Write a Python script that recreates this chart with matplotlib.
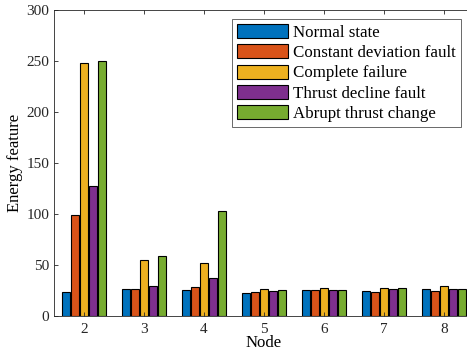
import matplotlib.pyplot as plt
import numpy as np

plt.rcParams['font.family'] = ['Liberation Serif', 'DejaVu Serif']

nodes = [2, 3, 4, 5, 6, 7, 8]
series_names = ['Normal state', 'Constant deviation fault', 'Complete failure',
                'Thrust decline fault', 'Abrupt thrust change']
normal_state = [23.2, 26.1, 25.8, 22.5, 25.8, 24.5, 26.5]
constant_dev = [98.7, 26.1, 28.1, 23.8, 25.2, 23.8, 24.2]
complete_fail = [248.5, 55.2, 52.3, 26.2, 27.1, 27.1, 29.4]
thrust_decline = [127.0, 29.7, 37.3, 24.2, 25.2, 26.5, 26.2]
abrupt_change = [250.3, 58.8, 102.9, 25.2, 25.2, 27.1, 26.5]
colors = ['#0072BD', '#D95319', '#EDB120', '#7E2F8E', '#77AC30']

data = [normal_state, constant_dev, complete_fail, thrust_decline, abrupt_change]

fig = plt.figure(figsize=(4.67, 3.56), dpi=100)
# axes runs past the right edge, like the cropped original
ax = fig.add_axes([54 / 467, 40 / 356, 420 / 467, 306 / 356])

x = np.array(nodes)
step = 0.15
width = 0.125
for i, (vals, c, name) in enumerate(zip(data, colors, series_names)):
    ax.bar(x + (i - 2) * step, vals, width, color=c, edgecolor='black',
           linewidth=0.8, label=name)

ax.set_xlim(1.5, 8.5)
ax.set_ylim(0, 300)
ax.set_xticks(nodes)
ax.set_yticks(np.arange(0, 301, 50))
ax.tick_params(direction='in', top=True, right=True, labelsize=11,
               length=3, width=0.6, colors='#262626')
ax.tick_params(axis='x', pad=5)
for sp in ax.spines.values():
    sp.set_linewidth(0.6)
    sp.set_color('#262626')
ax.set_xlabel('Node', fontsize=12, labelpad=-1)
ax.set_ylabel('Energy feature', fontsize=12, labelpad=2)

leg = ax.legend(loc='upper left', bbox_to_anchor=(178 / 420, 1 - 9 / 306),
                fontsize=12.2, frameon=True, fancybox=False, handlelength=3.0,
                handleheight=0.9, labelspacing=0.2, handletextpad=0.3,
                borderpad=0.3, borderaxespad=0)
leg.get_frame().set_edgecolor('#262626')
leg.get_frame().set_linewidth(0.6)

fig.savefig('out.png', dpi=100)
